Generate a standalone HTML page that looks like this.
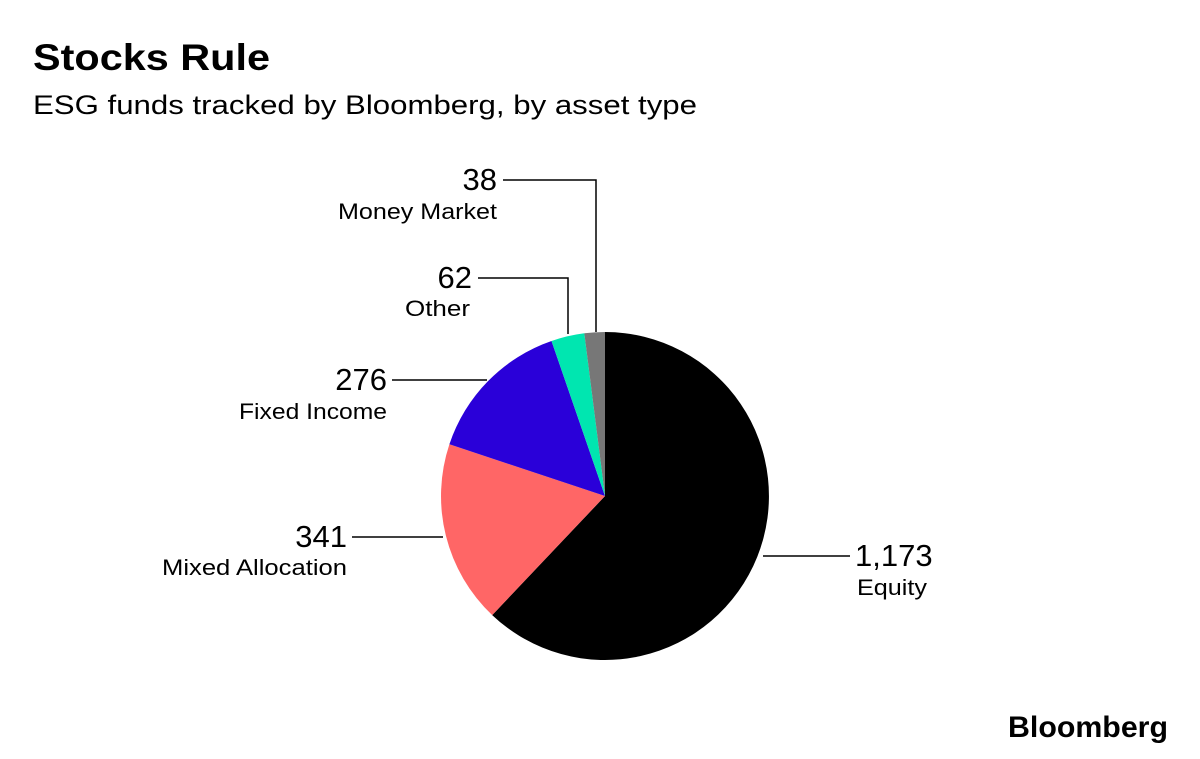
<!DOCTYPE html>
<html><head><meta charset="utf-8"><style>
body{margin:0;background:#fff;}
svg{display:block;font-family:"Liberation Sans",sans-serif;}
</style></head><body>
<svg width="1200" height="759" viewBox="0 0 1200 759" xmlns="http://www.w3.org/2000/svg">
<rect width="1200" height="759" fill="#fff"/>
<text x="33" y="70" font-size="37" font-weight="bold" fill="#000" textLength="237" lengthAdjust="spacingAndGlyphs">Stocks Rule</text>
<text x="33" y="114" font-size="27" fill="#000" textLength="664" lengthAdjust="spacingAndGlyphs">ESG funds tracked by Bloomberg, by asset type</text>
<g>
<path d="M605,496 L605,332 A164,164 0 1,1 492.2,615.1 Z" fill="#000"/>
<path d="M605,496 L492.2,615.1 A164,164 0 0,1 449.4,444.3 Z" fill="#ff6666"/>
<path d="M605,496 L449.4,444.3 A164,164 0 0,1 551.5,341.0 Z" fill="#2a00d9"/>
<path d="M605,496 L551.5,341.0 A164,164 0 0,1 584.3,333.3 Z" fill="#00e6b0"/>
<path d="M605,496 L584.3,333.3 A164,164 0 0,1 605,332 Z" fill="#777"/>
</g>
<g stroke="#000" stroke-width="1.5" fill="none">
<polyline points="596,332 596,180 503,180"/>
<polyline points="568,334 568,278 478,278"/>
<polyline points="487,380 392,380"/>
<polyline points="443,537 352,537"/>
<polyline points="763,556 850,556"/>
</g>
<g fill="#000" text-anchor="end">
<text x="497" y="190" font-size="31">38</text>
<text x="497" y="219" font-size="22" textLength="159" lengthAdjust="spacingAndGlyphs">Money Market</text>
<text x="472" y="288" font-size="31">62</text>
<text x="470" y="316" font-size="22" textLength="65" lengthAdjust="spacingAndGlyphs">Other</text>
<text x="387" y="390" font-size="31">276</text>
<text x="387" y="419" font-size="22" textLength="148" lengthAdjust="spacingAndGlyphs">Fixed Income</text>
<text x="347" y="547" font-size="31">341</text>
<text x="347" y="575" font-size="22" textLength="185" lengthAdjust="spacingAndGlyphs">Mixed Allocation</text>
</g>
<g fill="#000">
<text x="855" y="566" font-size="31">1,173</text>
<text x="857" y="595" font-size="22" textLength="70" lengthAdjust="spacingAndGlyphs">Equity</text>
</g>
<text x="1008" y="737" font-size="30" font-weight="bold" textLength="160" lengthAdjust="spacingAndGlyphs">Bloomberg</text>
</svg>
</body></html>
